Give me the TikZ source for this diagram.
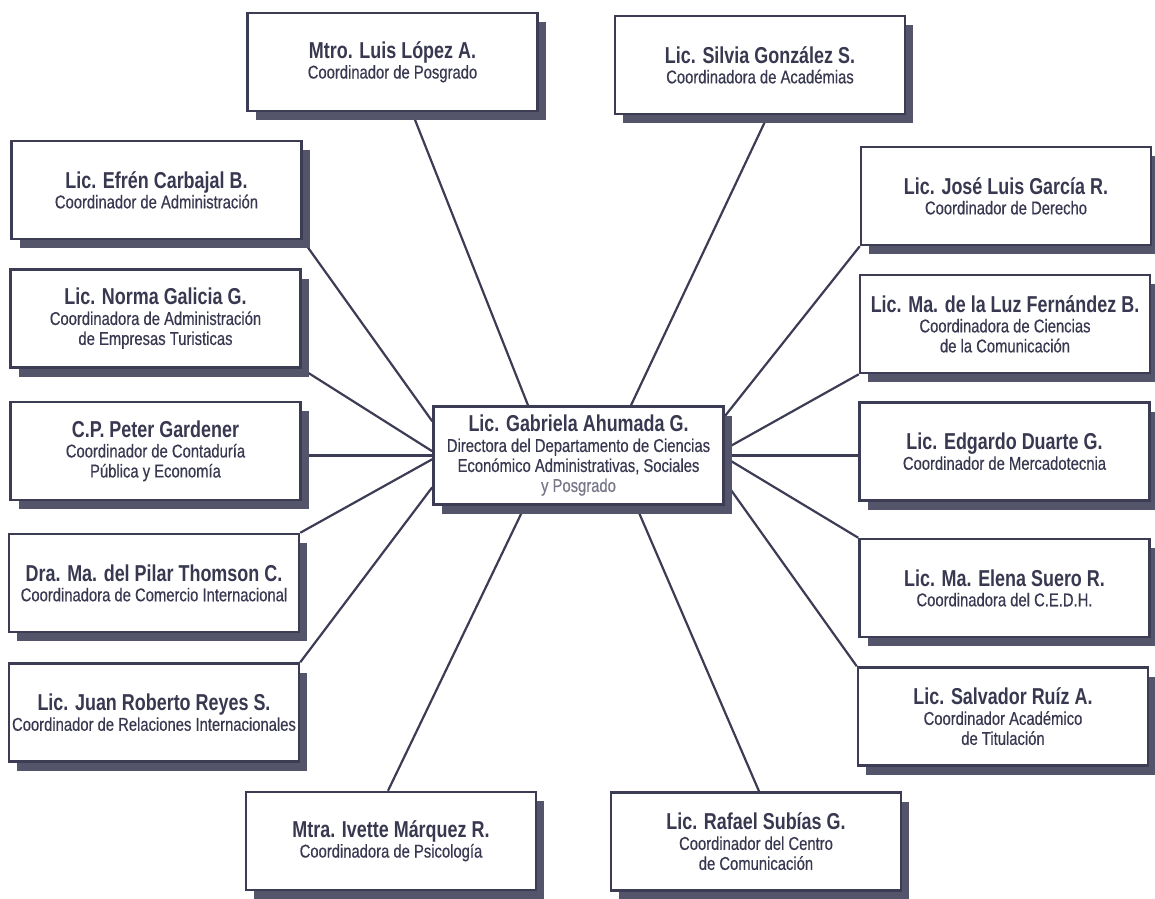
\documentclass[tikz,border=0pt]{standalone}
\usepackage{fontspec}
\newfontfamily\namefont{Liberation Sans}[FakeStretch=0.78]
\newfontfamily\rolefont{Liberation Sans}[FakeStretch=0.8, FakeBold=0.4]
\usepackage{xcolor}
\usepackage{tikz}
\usetikzlibrary{backgrounds}
\usetikzlibrary{shadows}

\definecolor{inkc}{RGB}{56,56,80}
\definecolor{linec}{RGB}{60,60,84}
\definecolor{shadowc}{RGB}{84,84,106}
\definecolor{fadec}{RGB}{120,120,138}
\newcommand\nom[1]{{\namefont\bfseries\fontsize{23}{24}\selectfont #1}}

\begin{document}
\begin{tikzpicture}[x=1pt, y=-1pt,
  cargo/.style={draw=linec, line width=2.5pt, fill=white, text=inkc, align=center, inner sep=0pt,
    minimum width=290pt, minimum height=98pt, font=\rolefont\fontsize{18.5}{20}\selectfont,
    drop shadow={shadow xshift=8pt, shadow yshift=-9pt, fill=shadowc, opacity=1}},
  enlace/.style={draw=linec, line width=2.2pt}]
  \useasboundingbox (0,0) rectangle (1155,898);

  \node[cargo](ahumada) at (578.5,455.5) {\nom{Lic. Gabriela Ahumada G.}\\Directora del Departamento de Ciencias\\Económico Administrativas, Sociales\\\textcolor{fadec}{y Posgrado}};

  \node[cargo](lopez) at (392.5,62) {\nom{Mtro. Luis López A.}\\Coordinador de Posgrado};
  \node[cargo](gonzalez) at (760,65) {\nom{Lic. Silvia González S.}\\Coordinadora de Académias};

  \node[cargo](carbajal) at (156.5,190) {\nom{Lic. Efrén Carbajal B.}\\Coordinador de Administración};
  \node[cargo](galicia) at (155.5,318.5) {\nom{Lic. Norma Galicia G.}\\Coordinadora de Administración\\de Empresas Turisticas};
  \node[cargo](gardener) at (155.5,451) {\nom{C.P. Peter Gardener}\\Coordinador de Contaduría\\Pública y Economía};
  \node[cargo](thomson) at (154,583) {\nom{Dra. Ma. del Pilar Thomson C.}\\Coordinadora de Comercio Internacional};
  \node[cargo](reyes) at (154,712.5) {\nom{Lic. Juan Roberto Reyes S.}\\Coordinador de Relaciones Internacionales};

  \node[cargo](marquez) at (391,841) {\nom{Mtra. Ivette Márquez R.}\\Coordinadora de Psicología};
  \node[cargo](subias) at (756,841.5) {\nom{Lic. Rafael Subías G.}\\Coordinador del Centro\\de Comunicación};

  \node[cargo](garcia) at (1006,196) {\nom{Lic. José Luis García R.}\\Coordinador de Derecho};
  \node[cargo](fernandez) at (1005,324) {\nom{Lic. Ma. de la Luz Fernández B.}\\Coordinadora de Ciencias\\de la Comunicación};
  \node[cargo](duarte) at (1004.5,451.5) {\nom{Lic. Edgardo Duarte G.}\\Coordinador de Mercadotecnia};
  \node[cargo](suero) at (1004.5,588) {\nom{Lic. Ma. Elena Suero R.}\\Coordinadora del C.E.D.H.};
  \node[cargo](ruiz) at (1003,716.5) {\nom{Lic. Salvador Ruíz A.}\\Coordinador Académico\\de Titulación};

  \begin{scope}[on background layer]
    \draw[enlace] ([xshift=19.5pt]lopez.south) -- ([xshift=-50.5pt]ahumada.north);
    \draw[enlace] ([xshift=8pt]gonzalez.south) -- ([xshift=52.5pt]ahumada.north);
    \draw[enlace] (carbajal.south east) -- ([yshift=-16pt]ahumada.north west);
    \draw[enlace] (galicia.south east) -- ([yshift=-46pt]ahumada.north west);
    \draw[enlace] (ahumada.west) -- (ahumada.west -| gardener.east);
    \draw[enlace] (thomson.north east) -- ([yshift=-54pt]ahumada.north west);
    \draw[enlace] (reyes.north east) -- ([yshift=-82pt]ahumada.north west);
    \draw[enlace] ([xshift=-3pt]marquez.north) -- ([xshift=-53.5pt]ahumada.south);
    \draw[enlace] ([xshift=3pt]subias.north) -- ([xshift=57.5pt]ahumada.south);
    \draw[enlace] (garcia.south west) -- ([yshift=-11pt]ahumada.north east);
    \draw[enlace] (fernandez.south west) -- ([yshift=-44pt]ahumada.north east);
    \draw[enlace] (ahumada.east) -- (ahumada.east -| duarte.west);
    \draw[enlace] (suero.north west) -- ([yshift=-52pt]ahumada.north east);
    \draw[enlace] (ruiz.north west) -- ([yshift=-76pt]ahumada.north east);
  \end{scope}
\end{tikzpicture}
\end{document}
